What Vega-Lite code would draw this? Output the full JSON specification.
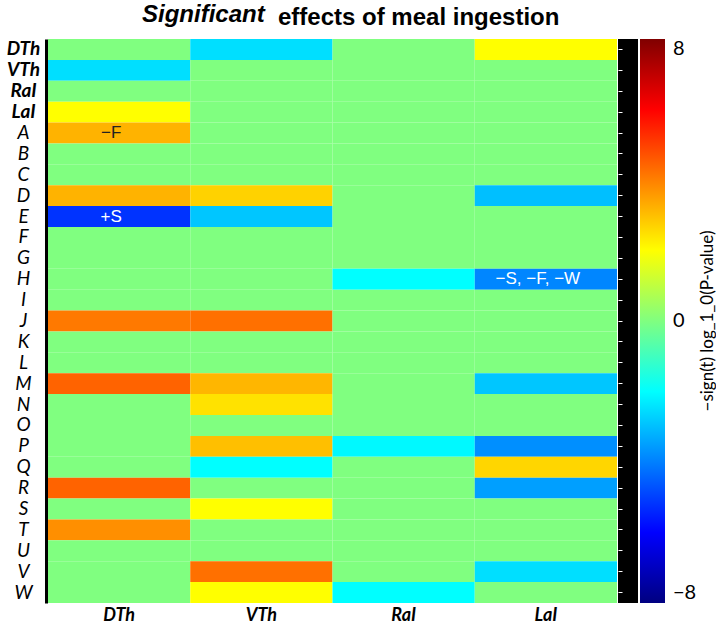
{
  "$schema": "https://vega.github.io/schema/vega-lite/v6.json",
  "padding": {"left": 6, "top": 3, "right": 0, "bottom": 0},
  "background": "white",
  "config": {"view": {"stroke": null}, "font": "Lato"},
  "title": {"text": "Significant", "fontStyle": "italic", "fontWeight": "bold", "font": "Liberation Sans", "fontSize": 24, "anchor": "start", "frame": "group", "dx": 94, "offset": -40, "baseline": "alphabetic", "color": "black"},
  "datasets": {
    "cells": [
      {"row": "DTh", "col": "DTh", "v": 0, "note": ""}, {"row": "DTh", "col": "VTh", "v": -2.5, "note": ""}, {"row": "DTh", "col": "RaI", "v": 0, "note": ""}, {"row": "DTh", "col": "LaI", "v": 2.0, "note": ""},
      {"row": "VTh", "col": "DTh", "v": -2.5, "note": ""}, {"row": "VTh", "col": "VTh", "v": 0, "note": ""}, {"row": "VTh", "col": "RaI", "v": 0, "note": ""}, {"row": "VTh", "col": "LaI", "v": 0, "note": ""},
      {"row": "RaI", "col": "DTh", "v": 0, "note": ""}, {"row": "RaI", "col": "VTh", "v": 0, "note": ""}, {"row": "RaI", "col": "RaI", "v": 0, "note": ""}, {"row": "RaI", "col": "LaI", "v": 0, "note": ""},
      {"row": "LaI", "col": "DTh", "v": 2.0, "note": ""}, {"row": "LaI", "col": "VTh", "v": 0, "note": ""}, {"row": "LaI", "col": "RaI", "v": 0, "note": ""}, {"row": "LaI", "col": "LaI", "v": 0, "note": ""},
      {"row": "A", "col": "DTh", "v": 3.2, "note": "−F"}, {"row": "A", "col": "VTh", "v": 0, "note": ""}, {"row": "A", "col": "RaI", "v": 0, "note": ""}, {"row": "A", "col": "LaI", "v": 0, "note": ""},
      {"row": "B", "col": "DTh", "v": 0, "note": ""}, {"row": "B", "col": "VTh", "v": 0, "note": ""}, {"row": "B", "col": "RaI", "v": 0, "note": ""}, {"row": "B", "col": "LaI", "v": 0, "note": ""},
      {"row": "C", "col": "DTh", "v": 0, "note": ""}, {"row": "C", "col": "VTh", "v": 0, "note": ""}, {"row": "C", "col": "RaI", "v": 0, "note": ""}, {"row": "C", "col": "LaI", "v": 0, "note": ""},
      {"row": "D", "col": "DTh", "v": 3.2, "note": ""}, {"row": "D", "col": "VTh", "v": 2.7, "note": ""}, {"row": "D", "col": "RaI", "v": 0, "note": ""}, {"row": "D", "col": "LaI", "v": -3.0, "note": ""},
      {"row": "E", "col": "DTh", "v": -5.2, "note": "+S"}, {"row": "E", "col": "VTh", "v": -2.9, "note": ""}, {"row": "E", "col": "RaI", "v": 0, "note": ""}, {"row": "E", "col": "LaI", "v": 0, "note": ""},
      {"row": "F", "col": "DTh", "v": 0, "note": ""}, {"row": "F", "col": "VTh", "v": 0, "note": ""}, {"row": "F", "col": "RaI", "v": 0, "note": ""}, {"row": "F", "col": "LaI", "v": 0, "note": ""},
      {"row": "G", "col": "DTh", "v": 0, "note": ""}, {"row": "G", "col": "VTh", "v": 0, "note": ""}, {"row": "G", "col": "RaI", "v": 0, "note": ""}, {"row": "G", "col": "LaI", "v": 0, "note": ""},
      {"row": "H", "col": "DTh", "v": 0, "note": ""}, {"row": "H", "col": "VTh", "v": 0, "note": ""}, {"row": "H", "col": "RaI", "v": -2.0, "note": ""}, {"row": "H", "col": "LaI", "v": -3.9, "note": "−S, −F, −W"},
      {"row": "I", "col": "DTh", "v": 0, "note": ""}, {"row": "I", "col": "VTh", "v": 0, "note": ""}, {"row": "I", "col": "RaI", "v": 0, "note": ""}, {"row": "I", "col": "LaI", "v": 0, "note": ""},
      {"row": "J", "col": "DTh", "v": 4.1, "note": ""}, {"row": "J", "col": "VTh", "v": 4.25, "note": ""}, {"row": "J", "col": "RaI", "v": 0, "note": ""}, {"row": "J", "col": "LaI", "v": 0, "note": ""},
      {"row": "K", "col": "DTh", "v": 0, "note": ""}, {"row": "K", "col": "VTh", "v": 0, "note": ""}, {"row": "K", "col": "RaI", "v": 0, "note": ""}, {"row": "K", "col": "LaI", "v": 0, "note": ""},
      {"row": "L", "col": "DTh", "v": 0, "note": ""}, {"row": "L", "col": "VTh", "v": 0, "note": ""}, {"row": "L", "col": "RaI", "v": 0, "note": ""}, {"row": "L", "col": "LaI", "v": 0, "note": ""},
      {"row": "M", "col": "DTh", "v": 4.45, "note": ""}, {"row": "M", "col": "VTh", "v": 3.15, "note": ""}, {"row": "M", "col": "RaI", "v": 0, "note": ""}, {"row": "M", "col": "LaI", "v": -2.9, "note": ""},
      {"row": "N", "col": "DTh", "v": 0, "note": ""}, {"row": "N", "col": "VTh", "v": 2.45, "note": ""}, {"row": "N", "col": "RaI", "v": 0, "note": ""}, {"row": "N", "col": "LaI", "v": 0, "note": ""},
      {"row": "O", "col": "DTh", "v": 0, "note": ""}, {"row": "O", "col": "VTh", "v": 0, "note": ""}, {"row": "O", "col": "RaI", "v": 0, "note": ""}, {"row": "O", "col": "LaI", "v": 0, "note": ""},
      {"row": "P", "col": "DTh", "v": 0, "note": ""}, {"row": "P", "col": "VTh", "v": 3.0, "note": ""}, {"row": "P", "col": "RaI", "v": -2.1, "note": ""}, {"row": "P", "col": "LaI", "v": -3.75, "note": ""},
      {"row": "Q", "col": "DTh", "v": 0, "note": ""}, {"row": "Q", "col": "VTh", "v": -2.0, "note": ""}, {"row": "Q", "col": "RaI", "v": 0, "note": ""}, {"row": "Q", "col": "LaI", "v": 2.65, "note": ""},
      {"row": "R", "col": "DTh", "v": 4.45, "note": ""}, {"row": "R", "col": "VTh", "v": 0, "note": ""}, {"row": "R", "col": "RaI", "v": 0, "note": ""}, {"row": "R", "col": "LaI", "v": -3.5, "note": ""},
      {"row": "S", "col": "DTh", "v": 0, "note": ""}, {"row": "S", "col": "VTh", "v": 2.0, "note": ""}, {"row": "S", "col": "RaI", "v": 0, "note": ""}, {"row": "S", "col": "LaI", "v": 0, "note": ""},
      {"row": "T", "col": "DTh", "v": 3.75, "note": ""}, {"row": "T", "col": "VTh", "v": 0, "note": ""}, {"row": "T", "col": "RaI", "v": 0, "note": ""}, {"row": "T", "col": "LaI", "v": 0, "note": ""},
      {"row": "U", "col": "DTh", "v": 0, "note": ""}, {"row": "U", "col": "VTh", "v": 0, "note": ""}, {"row": "U", "col": "RaI", "v": 0, "note": ""}, {"row": "U", "col": "LaI", "v": 0, "note": ""},
      {"row": "V", "col": "DTh", "v": 0, "note": ""}, {"row": "V", "col": "VTh", "v": 4.25, "note": ""}, {"row": "V", "col": "RaI", "v": 0, "note": ""}, {"row": "V", "col": "LaI", "v": -2.5, "note": ""},
      {"row": "W", "col": "DTh", "v": 0, "note": ""}, {"row": "W", "col": "VTh", "v": 2.0, "note": ""}, {"row": "W", "col": "RaI", "v": -2.0, "note": ""}, {"row": "W", "col": "LaI", "v": 0, "note": ""}
    ]
  },
  "spacing": 0,
  "hconcat": [
    {
      "width": 569,
      "height": 564,
      "title": {"text": "effects of meal ingestion", "fontWeight": "bold", "font": "Liberation Sans", "fontSize": 24, "anchor": "start", "frame": "group", "dx": 230, "offset": -10, "baseline": "alphabetic", "color": "black"},
      "data": {"name": "cells"},
      "encoding": {
        "x": {"field": "col", "type": "nominal", "sort": ["DTh", "VTh", "RaI", "LaI"], "scale": {"paddingInner": 0, "paddingOuter": 0},
          "axis": {"title": null, "orient": "bottom", "domain": false, "ticks": false, "labelAngle": 0, "labelFont": "Lato", "labelFontSize": 18, "labelFontWeight": "bold", "labelFontStyle": "italic", "labelColor": "black", "labelPadding": 3}},
        "y": {"field": "row", "type": "nominal", "sort": ["DTh", "VTh", "RaI", "LaI", "A", "B", "C", "D", "E", "F", "G", "H", "I", "J", "K", "L", "M", "N", "O", "P", "Q", "R", "S", "T", "U", "V", "W"], "scale": {"paddingInner": 0, "paddingOuter": 0},
          "axis": {"title": null, "orient": "left", "domain": true, "domainColor": "black", "domainWidth": 3, "offset": 2, "ticks": true, "tickColor": "white", "tickSize": 3, "tickWidth": 1, "labelAlign": "center", "labelPadding": 20, "labelFont": "Lato", "labelFontSize": 19, "labelFontStyle": "italic", "labelFontWeight": {"condition": {"test": "length(datum.label) > 1", "value": "bold"}, "value": "normal"}, "labelColor": "black"}}
      },
      "layer": [
        {
          "mark": {"type": "rect"},
          "encoding": {
            "color": {"field": "v", "type": "quantitative",
              "scale": {"type": "linear", "interpolate": "rgb", "domain": [-8, -6, -2, 2, 6, 8], "range": ["#000080", "#0000ff", "#00ffff", "#ffff00", "#ff0000", "#800000"]},
              "legend": {"type": "gradient", "direction": "vertical", "orient": "right", "offset": 2, "gradientLength": 564, "gradientThickness": 25, "gradientStrokeWidth": 0, "values": [-8, 0, 8], "labelFontSize": 20, "labelFont": "Lato", "labelColor": "black", "labelOffset": 8, "title": "−sign(t) log_1_0(P-value)", "titleOrient": "right", "titleFontSize": 17, "titleFont": "Lato", "titleFontWeight": "normal", "titleColor": "black", "titleAnchor": "middle", "titleBaseline": "top", "titleLimit": 600, "titlePadding": 4, "padding": 0,
                "encoding": {"title": {"angle": {"value": -90}}}}}
          }
        },
        {
          "transform": [{"filter": "datum.note != ''"}],
          "mark": {"type": "text", "font": "Liberation Sans", "fontSize": 17, "dx": -8},
          "encoding": {
            "text": {"field": "note"},
            "color": {"condition": {"test": "datum.v < -3", "value": "white"}, "value": "#222222"}
          }
        }
      ]
    },
    {
      "width": 20,
      "height": 564,
      "data": {"name": "cells"},
      "mark": {"type": "rect", "color": "black"},
      "encoding": {
        "y": {"field": "row", "type": "nominal", "sort": ["DTh", "VTh", "RaI", "LaI", "A", "B", "C", "D", "E", "F", "G", "H", "I", "J", "K", "L", "M", "N", "O", "P", "Q", "R", "S", "T", "U", "V", "W"], "scale": {"paddingInner": 0, "paddingOuter": 0},
          "axis": {"title": null, "orient": "left", "domain": false, "labels": false, "ticks": true, "tickColor": "white", "tickSize": -4, "tickWidth": 1}}
      }
    }
  ]
}
